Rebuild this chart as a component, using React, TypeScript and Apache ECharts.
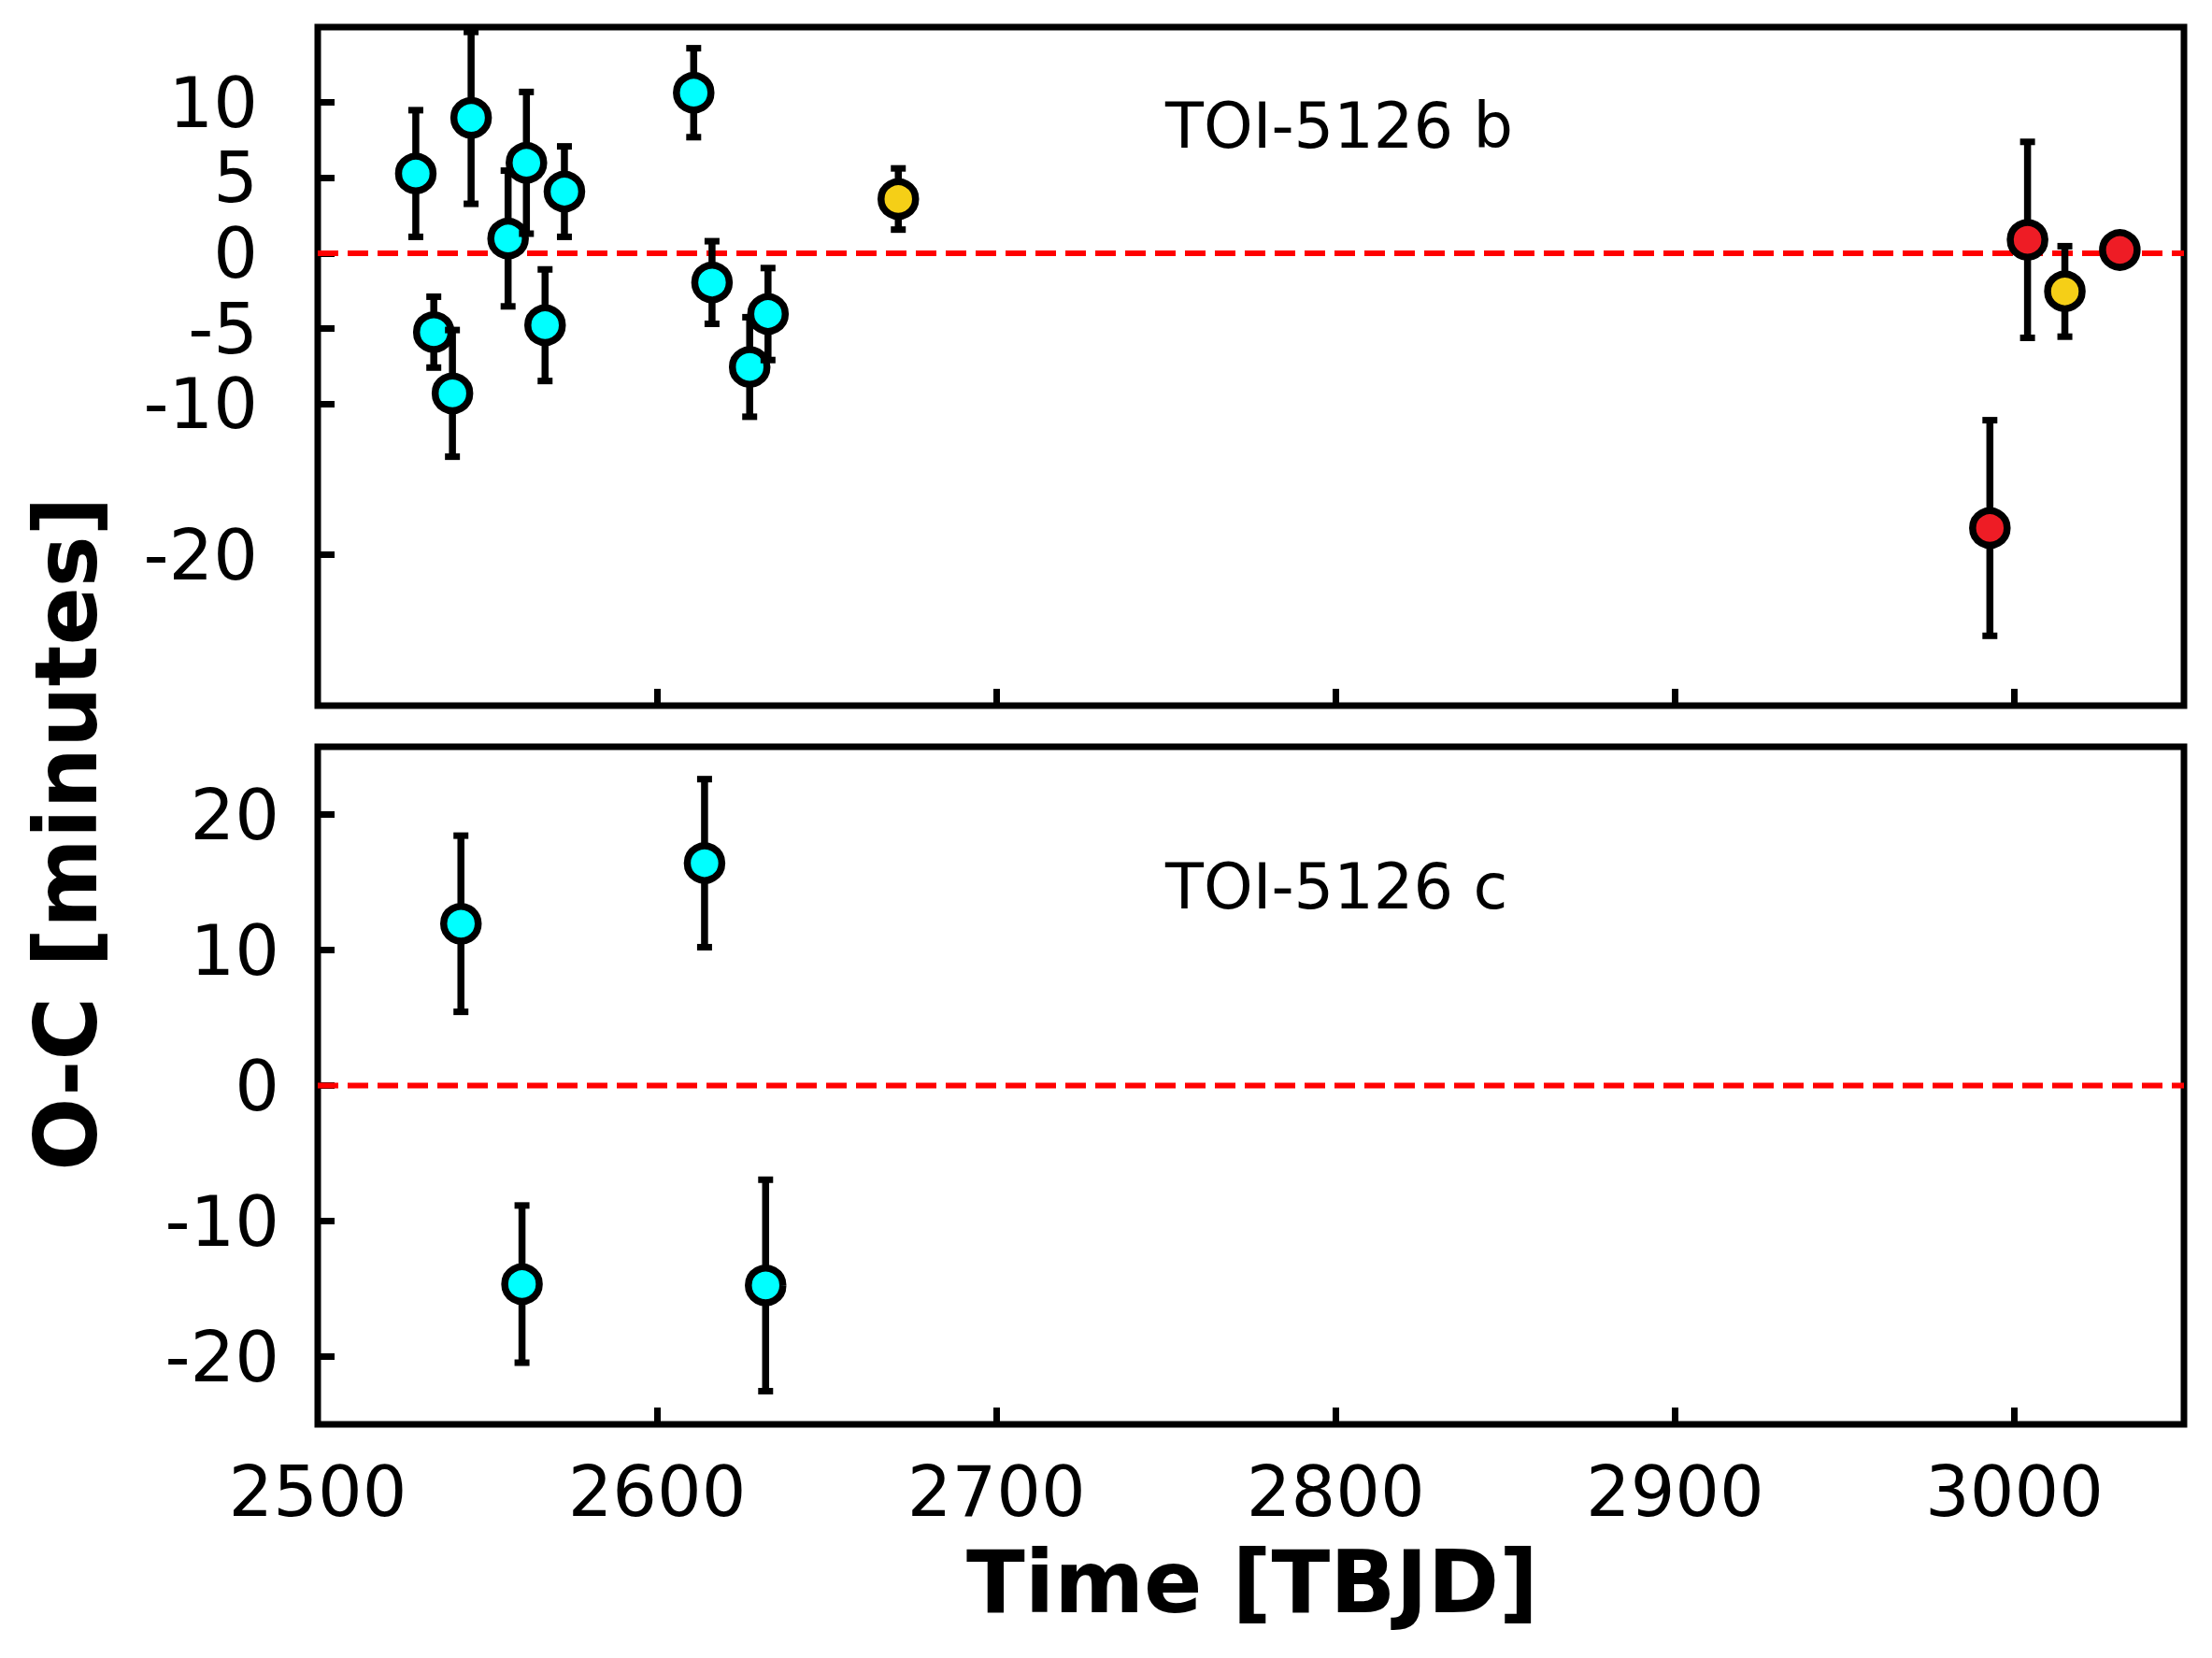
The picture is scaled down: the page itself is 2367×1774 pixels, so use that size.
import React, { useEffect, useRef } from "react";
import * as echarts from "echarts";

// ---- data ----
const xTicks = [2500, 2600, 2700, 2800, 2900, 3000];
const bTicks = [-20, -10, -5, 0, 5, 10];
const cTicks = [-20, -10, 0, 10, 20];

// TOI-5126 b
const bTime = [2528.9, 2534.2, 2539.7, 2545.2, 2556.1, 2561.5, 2567.0, 2572.7, 2610.8, 2616.2, 2627.3, 2632.7, 2671.1, 2992.8, 3003.9, 3014.9, 3031.1];
const bOC = [5.29, -5.23, -9.29, 8.98, 0.98, 6.0, -4.77, 4.09, 10.65, -1.94, -7.54, -4.03, 3.6, -18.22, 0.89, -2.53, 0.22];
const bErr = [4.2, 2.35, 4.2, 5.7, 4.5, 4.7, 3.7, 3.0, 2.95, 2.74, 3.3, 3.05, 2.03, 7.15, 6.5, 3.0, 0.4];
const bSource = [0, 0, 0, 0, 0, 0, 0, 0, 0, 0, 0, 0, 1, 2, 2, 1, 2];

// TOI-5126 c
const cTime = [2542.2, 2560.2, 2614.0, 2632.0];
const cOC = [11.94, -14.65, 16.41, -14.75];
const cErr = [6.5, 5.8, 6.2, 7.8];
const cSource = [0, 0, 0, 0];

const sourceColors = ["#00FFFF", "#F5CF17", "#EE1C25"];
const zeroLine = [[2500, 0], [3050, 0]];

const FONT = "DejaVu Sans";

function renderErr(params: any, api: any) {
  const x = api.value(0);
  const y = api.value(1);
  const e = api.value(2);
  const s = api.value(3);
  const p = api.coord([x, y]);
  const t = api.coord([x, y + e]);
  const b = api.coord([x, y - e]);
  const cap = 8;
  return {
    type: "group",
    children: [
      { type: "line", shape: { x1: p[0], y1: t[1], x2: p[0], y2: b[1] }, style: { stroke: "#000", lineWidth: 7.5 } },
      { type: "line", shape: { x1: p[0] - cap, y1: t[1], x2: p[0] + cap, y2: t[1] }, style: { stroke: "#000", lineWidth: 7 } },
      { type: "line", shape: { x1: p[0] - cap, y1: b[1], x2: p[0] + cap, y2: b[1] }, style: { stroke: "#000", lineWidth: 7 } },
      { type: "circle", shape: { cx: p[0], cy: p[1], r: 18.5 }, style: { fill: sourceColors[s], stroke: "#000", lineWidth: 7.5 } },
    ],
  };
}

export default function App() {
  const ref = useRef<HTMLDivElement>(null);
  useEffect(() => {
    if (!ref.current) return;
    const chart = echarts.init(ref.current, null, { renderer: "svg" });
    const axisTick = (vals: number[]) => ({
      show: true,
      inside: true,
      length: 18,
      customValues: vals,
      lineStyle: { color: "#000", width: 7 },
    });
    const xAxisBase = {
      type: "value",
      min: 2500,
      max: 3050,
      position: "bottom",
      axisLine: { show: false, onZero: false },
      splitLine: { show: false },
    };
    const yAxisBase = {
      type: "value",
      position: "left",
      axisLine: { show: false, onZero: false },
      splitLine: { show: false },
    };
    const labelStyle = { color: "#000", fontFamily: FONT, fontSize: 75 };
    const option: any = {
      animation: false,
      backgroundColor: "#fff",
      grid: [
        { left: 340, top: 29, width: 1997, height: 726, show: true, borderColor: "#000", borderWidth: 7, backgroundColor: "transparent" },
        { left: 340, top: 799, width: 1997, height: 725, show: true, borderColor: "#000", borderWidth: 7, backgroundColor: "transparent" },
      ],
      xAxis: [
        { ...xAxisBase, gridIndex: 0, axisTick: axisTick(xTicks.slice(1)), axisLabel: { show: false } },
        {
          ...xAxisBase,
          gridIndex: 1,
          axisTick: axisTick(xTicks.slice(1)),
          axisLabel: { ...labelStyle, margin: 34, customValues: xTicks, formatter: (v: number) => (xTicks.indexOf(v) >= 0 ? String(v) : "") },
        },
      ],
      yAxis: [
        {
          ...yAxisBase,
          gridIndex: 0,
          min: -30,
          max: 15,
          axisTick: axisTick(bTicks),
          axisLabel: { ...labelStyle, margin: 64, customValues: bTicks, formatter: (v: number) => (bTicks.indexOf(v) >= 0 ? String(v) : "") },
        },
        {
          ...yAxisBase,
          gridIndex: 1,
          min: -25,
          max: 25,
          axisTick: axisTick(cTicks),
          axisLabel: { ...labelStyle, margin: 41, customValues: cTicks, formatter: (v: number) => (cTicks.indexOf(v) >= 0 ? String(v) : "") },
        },
      ],
      series: [
        {
          type: "line",
          xAxisIndex: 0,
          yAxisIndex: 0,
          data: zeroLine,
          showSymbol: false,
          z: 1,
          lineStyle: { color: "#FF0000", width: 6, type: [22, 10] },
        },
        {
          type: "line",
          xAxisIndex: 1,
          yAxisIndex: 1,
          data: zeroLine,
          showSymbol: false,
          z: 1,
          lineStyle: { color: "#FF0000", width: 6, type: [22, 10] },
        },
        {
          type: "custom",
          xAxisIndex: 0,
          yAxisIndex: 0,
          z: 3,
          renderItem: renderErr,
          data: bTime.map((t, i) => [t, bOC[i], bErr[i], bSource[i]]),
        },
        {
          type: "custom",
          xAxisIndex: 1,
          yAxisIndex: 1,
          z: 3,
          renderItem: renderErr,
          data: cTime.map((t, i) => [t, cOC[i], cErr[i], cSource[i]]),
        },
      ],
      graphic: [
        { type: "text", x: 1247, y: 135, style: { text: "TOI-5126 b", fill: "#000", font: `67px "${FONT}"`, align: "left", verticalAlign: "middle" } },
        { type: "text", x: 1247, y: 949, style: { text: "TOI-5126 c", fill: "#000", font: `67px "${FONT}"`, align: "left", verticalAlign: "middle" } },
        { type: "text", x: 1340, y: 1693, style: { text: "Time [TBJD]", fill: "#000", font: `bold 92px "${FONT}"`, align: "center", verticalAlign: "middle" } },
        { type: "text", x: 71, y: 892, rotation: Math.PI / 2, style: { text: "O-C [minutes]", fill: "#000", font: `bold 92px "${FONT}"`, align: "center", verticalAlign: "middle" } },
      ],
    };
    chart.setOption(option);
    return () => chart.dispose();
  }, []);
  return (
    <div
      ref={ref}
      style={{ position: "absolute", left: 0, top: 0, width: 2367, height: 1774, background: "#fff" }}
    />
  );
}
